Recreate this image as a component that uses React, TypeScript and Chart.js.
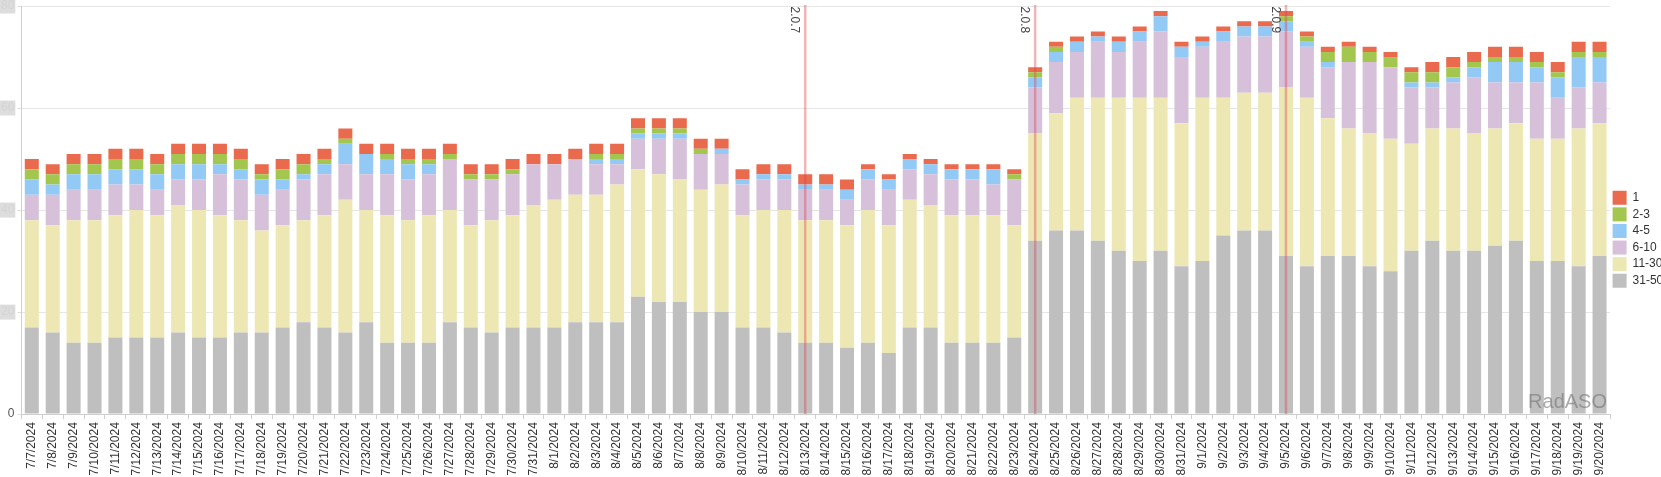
import React, { useEffect, useRef } from 'react';
import { Chart, registerables } from 'chart.js';

Chart.register(...registerables);

const FONT = '"Liberation Sans", Arial, Helvetica, sans-serif';

const categories = [
  '7/7/2024', '7/8/2024', '7/9/2024', '7/10/2024', '7/11/2024', '7/12/2024', '7/13/2024', '7/14/2024', '7/15/2024', '7/16/2024',
  '7/17/2024', '7/18/2024', '7/19/2024', '7/20/2024', '7/21/2024', '7/22/2024', '7/23/2024', '7/24/2024', '7/25/2024', '7/26/2024',
  '7/27/2024', '7/28/2024', '7/29/2024', '7/30/2024', '7/31/2024', '8/1/2024', '8/2/2024', '8/3/2024', '8/4/2024', '8/5/2024',
  '8/6/2024', '8/7/2024', '8/8/2024', '8/9/2024', '8/10/2024', '8/11/2024', '8/12/2024', '8/13/2024', '8/14/2024', '8/15/2024',
  '8/16/2024', '8/17/2024', '8/18/2024', '8/19/2024', '8/20/2024', '8/21/2024', '8/22/2024', '8/23/2024', '8/24/2024', '8/25/2024',
  '8/26/2024', '8/27/2024', '8/28/2024', '8/29/2024', '8/30/2024', '8/31/2024', '9/1/2024', '9/2/2024', '9/3/2024', '9/4/2024',
  '9/5/2024', '9/6/2024', '9/7/2024', '9/8/2024', '9/9/2024', '9/10/2024', '9/11/2024', '9/12/2024', '9/13/2024', '9/14/2024',
  '9/15/2024', '9/16/2024', '9/17/2024', '9/18/2024', '9/19/2024', '9/20/2024',
];

const seriesLabels = ['31-50', '11-30', '6-10', '4-5', '2-3', '1'];
const seriesColors = ['#bfbfbf', '#ede8b3', '#d6c0da', '#92c9f5', '#a2c64e', '#ea6a4e'];

const pos31to50 = [
  17, 16, 14, 14, 15, 15, 15, 16, 15, 15, 16, 16, 17, 18, 17, 16, 18, 14, 14, 14,
  18, 17, 16, 17, 17, 17, 18, 18, 18, 23, 22, 22, 20, 20, 17, 17, 16, 14, 14, 13,
  14, 12, 17, 17, 14, 14, 14, 15, 34, 36, 36, 34, 32, 30, 32, 29, 30, 35, 36, 36,
  31, 29, 31, 31, 29, 28, 32, 34, 32, 32, 33, 34, 30, 30, 29, 31,
];
const pos11to30 = [
  21, 21, 24, 24, 24, 25, 24, 25, 25, 24, 22, 20, 20, 20, 22, 26, 22, 25, 24, 25,
  22, 20, 22, 22, 24, 25, 25, 25, 27, 25, 25, 24, 24, 25, 22, 23, 24, 24, 24, 24,
  26, 25, 25, 24, 25, 25, 25, 22, 21, 23, 26, 28, 30, 32, 30, 28, 32, 27, 27, 27,
  33, 33, 27, 25, 26, 26, 21, 22, 24, 23, 23, 23, 24, 24, 27, 26,
];
const pos6to10 = [
  5, 6, 6, 6, 6, 5, 5, 5, 6, 8, 8, 7, 7, 8, 8, 7, 7, 8, 8, 8,
  10, 9, 8, 8, 8, 7, 7, 6, 4, 6, 7, 8, 7, 6, 6, 6, 6, 6, 6, 5,
  6, 7, 6, 6, 7, 7, 6, 9, 9, 10, 9, 11, 9, 11, 13, 13, 10, 11, 11, 11,
  11, 10, 10, 13, 14, 14, 11, 8, 9, 11, 9, 8, 11, 8, 8, 8,
];
const pos4to5 = [
  3, 2, 3, 3, 3, 3, 3, 3, 3, 2, 2, 3, 2, 1, 2, 4, 4, 3, 3, 2,
  0, 0, 0, 0, 0, 0, 0, 1, 1, 1, 1, 1, 0, 1, 1, 1, 1, 1, 1, 2,
  2, 2, 2, 2, 2, 2, 3, 0, 2, 2, 2, 1, 2, 2, 3, 2, 1, 2, 2, 2,
  2, 1, 1, 0, 0, 0, 1, 1, 1, 2, 4, 4, 3, 4, 6, 5,
];
const pos2to3 = [
  2, 2, 2, 2, 2, 2, 2, 2, 2, 2, 2, 1, 2, 2, 1, 1, 0, 1, 1, 1,
  1, 1, 1, 1, 0, 0, 0, 1, 1, 1, 1, 1, 1, 0, 0, 0, 0, 0, 0, 0,
  0, 0, 0, 0, 0, 0, 0, 1, 1, 1, 0, 0, 0, 0, 0, 0, 0, 0, 0, 0,
  1, 1, 2, 3, 2, 2, 2, 2, 2, 1, 1, 1, 1, 1, 1, 1,
];
const pos1 = [
  2, 2, 2, 2, 2, 2, 2, 2, 2, 2, 2, 2, 2, 2, 2, 2, 2, 2, 2, 2,
  2, 2, 2, 2, 2, 2, 2, 2, 2, 2, 2, 2, 2, 2, 2, 2, 2, 2, 2, 2,
  1, 1, 1, 1, 1, 1, 1, 1, 1, 1, 1, 1, 1, 1, 1, 1, 1, 1, 1, 1,
  1, 1, 1, 1, 1, 1, 1, 2, 2, 2, 2, 2, 2, 2, 2, 2,
];

const yTickValues = [0, 20, 40, 60, 80];
const markerDates = ['8/13/2024', '8/24/2024', '9/5/2024'];
const markerLabels = ['2.0.7', '2.0.8', '2.0.9'];
const watermarkText = 'RadASO';

const overlayPlugin = {
  id: 'releaseMarkers',
  afterDatasetsDraw(chart: any) {
    const { ctx, chartArea, scales } = chart;
    const xs = scales.x;
    ctx.save();
    ctx.font = `20px ${FONT}`;
    ctx.fillStyle = 'rgba(115,115,115,0.6)';
    ctx.textAlign = 'right';
    ctx.textBaseline = 'alphabetic';
    ctx.fillText(watermarkText, chartArea.right - 3, chartArea.bottom - 6);

    markerDates.forEach((d, i) => {
      const idx = categories.indexOf(d);
      if (idx < 0) return;
      const px = xs.getPixelForValue(idx);
      ctx.strokeStyle = 'rgba(220,70,80,0.4)';
      ctx.lineWidth = 2.5;
      ctx.beginPath();
      ctx.moveTo(px, chartArea.top - 1);
      ctx.lineTo(px, chartArea.bottom);
      ctx.stroke();
      ctx.save();
      ctx.translate(px - 14, chartArea.top + 0.5);
      ctx.rotate(Math.PI / 2);
      ctx.fillStyle = '#444';
      ctx.font = `12px ${FONT}`;
      ctx.textAlign = 'left';
      ctx.textBaseline = 'alphabetic';
      ctx.fillText(markerLabels[i], 0, 0);
      ctx.restore();
    });
    ctx.restore();
  },
};

export default function App() {
  const ref = useRef<HTMLCanvasElement>(null);

  useEffect(() => {
    document.body.style.margin = '0';
    const seriesData = [pos31to50, pos11to30, pos6to10, pos4to5, pos2to3, pos1];
    const chart = new Chart(ref.current as HTMLCanvasElement, {
      type: 'bar',
      data: {
        labels: categories,
        datasets: seriesLabels.map((label, i) => ({
          label,
          data: seriesData[i],
          backgroundColor: seriesColors[i],
          borderWidth: 0,
          barPercentage: 0.67,
          categoryPercentage: 1,
        })),
      },
      options: {
        animation: false,
        responsive: false,
        layout: { padding: { left: -2, right: 0, top: 0, bottom: -1.5 } },
        plugins: {
          legend: {
            position: 'right',
            reverse: true,
            maxWidth: 51,
            labels: {
              boxWidth: 14,
              boxHeight: 14,
              padding: 2.6,
              color: '#333',
              font: { family: FONT, size: 12 },
            },
          },
          tooltip: { enabled: false },
        },
        scales: {
          x: {
            stacked: true,
            grid: { drawOnChartArea: false, drawTicks: true, tickLength: 5, color: '#cfcfcf', offset: true },
            border: { color: '#cfcfcf' },
            ticks: {
              autoSkip: false,
              maxRotation: 90,
              minRotation: 90,
              padding: 3,
              color: '#333',
              font: { family: FONT, size: 12 },
            },
          },
          y: {
            stacked: true,
            min: yTickValues[0],
            max: yTickValues[yTickValues.length - 1],
            afterBuildTicks: (scale: any) => {
              scale.ticks = yTickValues.map((v) => ({ value: v }));
            },
            grid: { color: '#e6e6e6', tickLength: 4, tickColor: '#e0e0e0' },
            border: { color: '#cfcfcf' },
            ticks: {
              padding: 3,
              font: { family: FONT, size: 12, lineHeight: 0.5 },
              color: (c: any) => (c.tick && c.tick.value === 0 ? '#555' : '#d4d4d4'),
              showLabelBackdrop: true,
              backdropColor: (c: any) => (c.tick && c.tick.value === 0 ? 'rgba(0,0,0,0)' : '#dddddd'),
              backdropPadding: { top: 4.5, bottom: 4.5, left: 2, right: 1 },
            },
          },
        },
      },
      plugins: [overlayPlugin],
    } as any);
    return () => chart.destroy();
  }, []);

  return (
    <div style={{ width: 1661, height: 477, position: 'relative' }}>
      <canvas ref={ref} width={1661} height={477} style={{ display: 'block' }} />
    </div>
  );
}
